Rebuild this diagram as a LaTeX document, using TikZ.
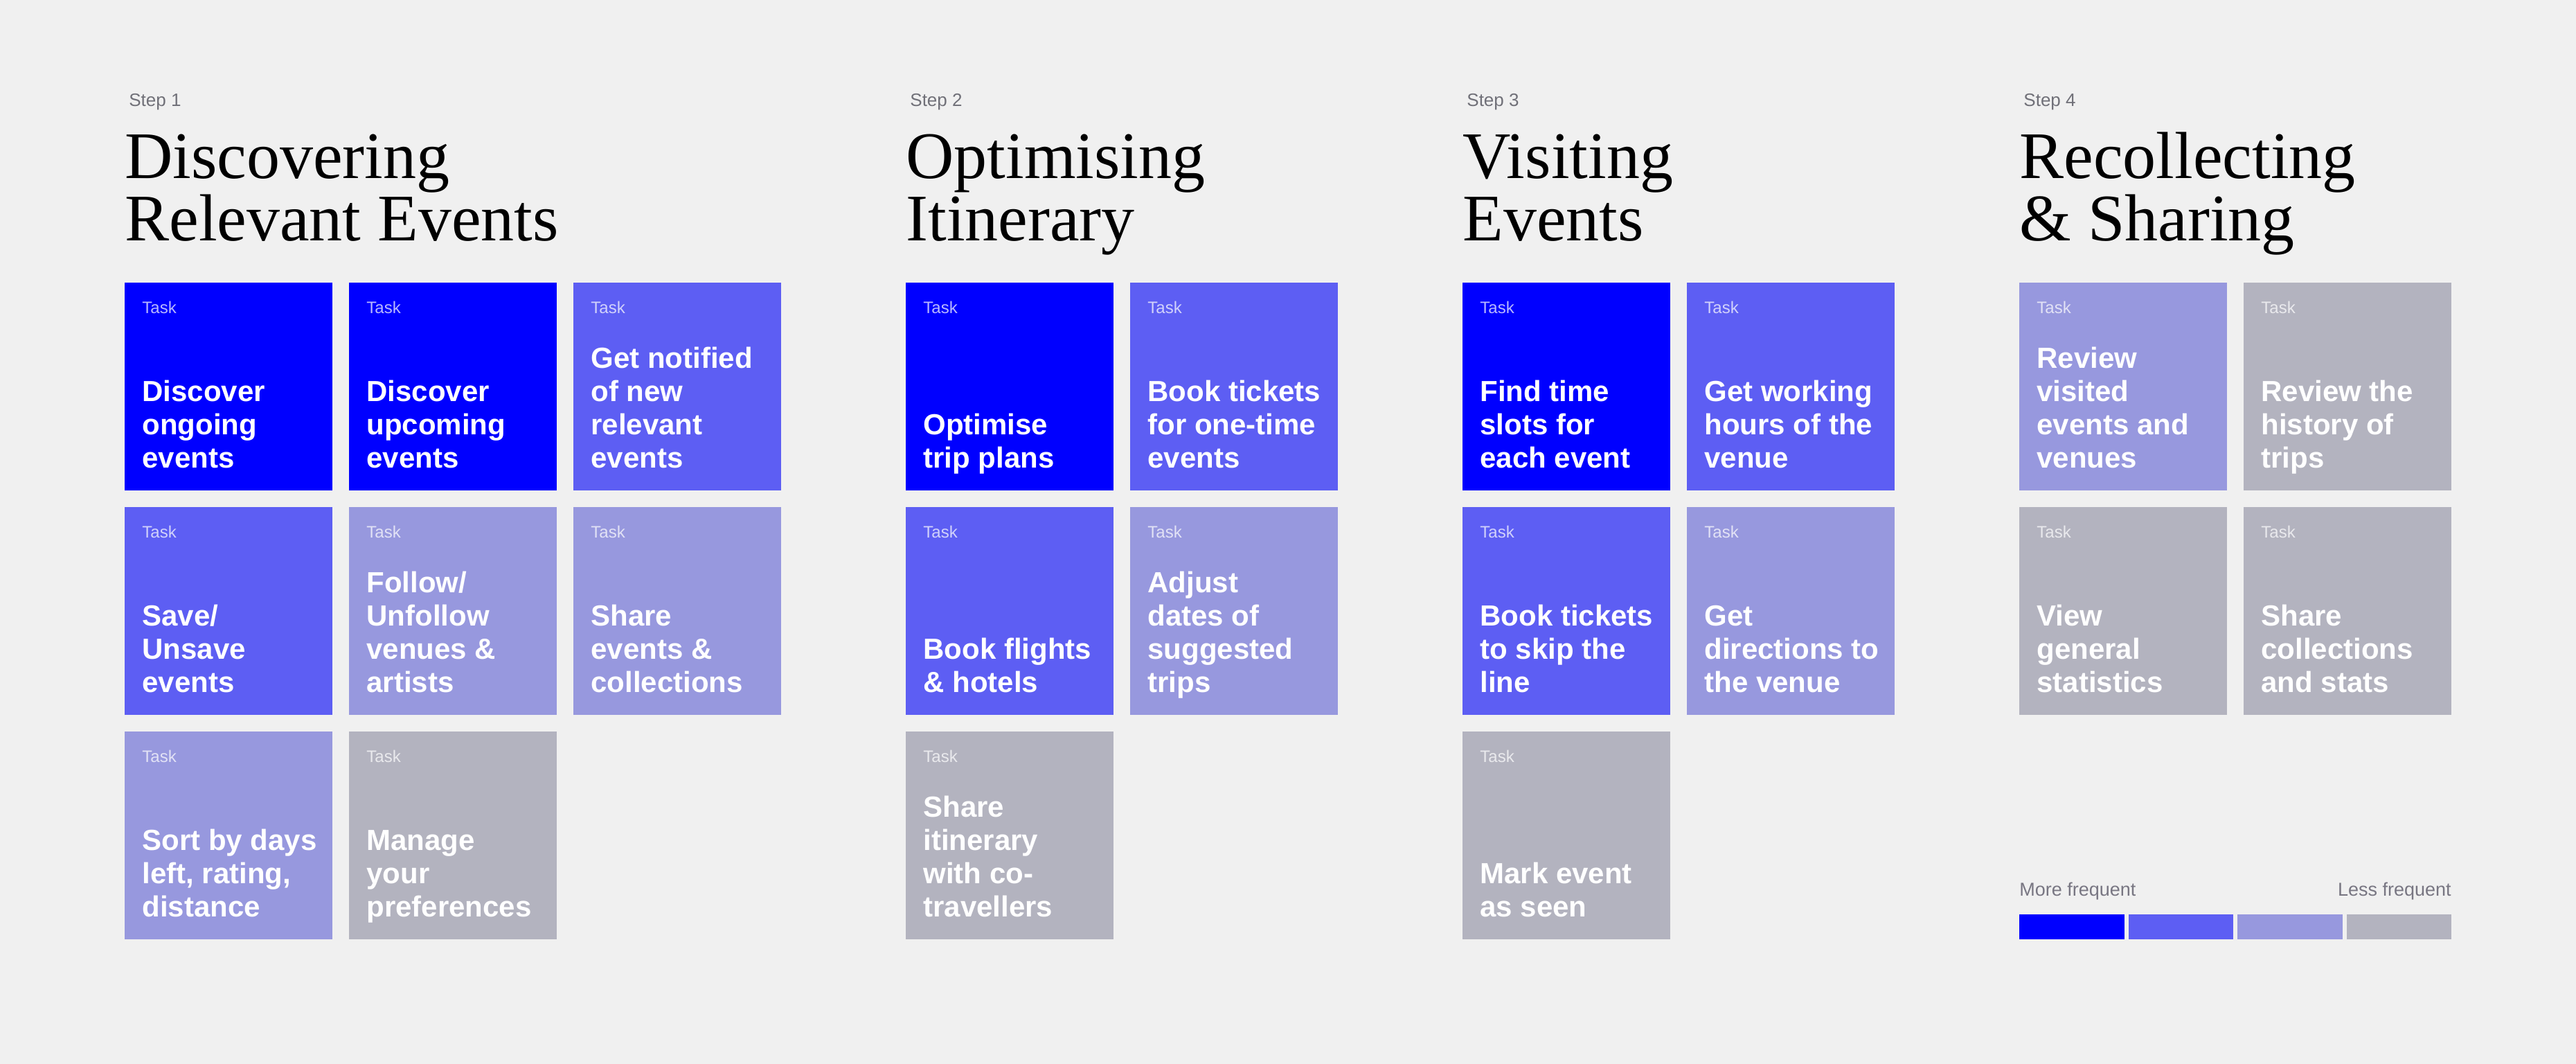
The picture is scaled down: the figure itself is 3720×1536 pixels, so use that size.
\documentclass[tikz,border=0pt]{standalone}
\usepackage{fontspec}
\setmainfont{Liberation Serif}
\newfontfamily\uisans{Liberation Sans}

\definecolor{pagebg}{HTML}{F0F0F0}
\definecolor{freqA}{HTML}{0000FF}
\definecolor{freqB}{HTML}{5D5EF3}
\definecolor{freqC}{HTML}{9798DE}
\definecolor{freqD}{HTML}{B3B3BF}
\definecolor{steptext}{HTML}{707078}
\definecolor{legendtext}{HTML}{787682}

\tikzset{
  cardbox/.style={draw=none, fill=#1, inner sep=0pt, outer sep=0pt,
    minimum width=150pt, minimum height=150pt, anchor=north west},
  tasktag/.style={anchor=base west, inner sep=0pt, text=white, text opacity=0.72,
    font=\uisans\fontsize{12}{14}\selectfont},
  tasktext/.style={anchor=base west, inner sep=0pt, text=white,
    font=\uisans\bfseries\fontsize{21}{24}\selectfont},
  steptag/.style={anchor=base west, inner sep=0pt, text=steptext,
    font=\uisans\fontsize{13}{15}\selectfont},
  phasetitle/.style={anchor=base west, inner sep=0pt, text=black,
    font=\fontsize{48}{45}\selectfont},
  legendbar/.style={draw=none, fill=#1, inner sep=0pt, outer sep=0pt,
    minimum width=75.75pt, minimum height=18pt, anchor=north west},
  legendtag/.style={inner sep=0pt, text=legendtext,
    font=\uisans\fontsize{13.5}{15}\selectfont},
}

% card: name, x, y, fill, lines separated by \cr
\newcommand\taskcard[5]{%
  \node[cardbox=#4] (#1) at (#2,#3) {};
  \node[tasktag] (#1-tag) at ([xshift=12.5pt,yshift=-22.25pt]#1.north west) {Task};
  \node[tasktext] (#1-text) at ([xshift=12.5pt,yshift=16.5pt]#1.south west)
    {\vbox{\halign{##\hfil\cr #5\cr}}};
}
% phase heading: name, x, step label, title lines
\newcommand\phasehead[4]{%
  \node[steptag] (#1-step) at (#2+6,154) {#3};
  \node[phasetitle] (#1-title) at (#2,257) {\vtop{\halign{##\hfil\cr #4\cr}}};
}

\begin{document}
\begin{tikzpicture}[x=0.5pt,y=-0.5pt]
  \fill[pagebg] (0,0) rectangle (3720,1536);
  \useasboundingbox (0,0) rectangle (3720,1536);

  % Step 1
  \phasehead{sa}{180}{Step 1}{Discovering\cr Relevant Events}
  \taskcard{a1}{180}{408}{freqA}{Discover\cr ongoing\cr events}
  \taskcard{a2}{504}{408}{freqA}{Discover\cr upcoming\cr events}
  \taskcard{a3}{828}{408}{freqB}{Get notified\cr of new\cr relevant\cr events}
  \taskcard{a4}{180}{732}{freqB}{Save/\cr Unsave\cr events}
  \taskcard{a5}{504}{732}{freqC}{Follow/\cr Unfollow\cr venues \&\cr artists}
  \taskcard{a6}{828}{732}{freqC}{Share\cr events \&\cr collections}
  \taskcard{a7}{180}{1056}{freqC}{Sort by days\cr left, rating,\cr distance}
  \taskcard{a8}{504}{1056}{freqD}{Manage\cr your\cr preferences}

  % Step 2
  \phasehead{sb}{1308}{Step 2}{Optimising\cr Itinerary}
  \taskcard{b1}{1308}{408}{freqA}{Optimise\cr trip plans}
  \taskcard{b2}{1632}{408}{freqB}{Book tickets\cr for one-time\cr events}
  \taskcard{b3}{1308}{732}{freqB}{Book flights\cr \& hotels}
  \taskcard{b4}{1632}{732}{freqC}{Adjust\cr dates of\cr suggested\cr trips}
  \taskcard{b5}{1308}{1056}{freqD}{Share\cr itinerary\cr with co-\cr travellers}

  % Step 3
  \phasehead{sc}{2112}{Step 3}{Visiting\cr Events}
  \taskcard{c1}{2112}{408}{freqA}{Find time\cr slots for\cr each event}
  \taskcard{c2}{2436}{408}{freqB}{Get working\cr hours of the\cr venue}
  \taskcard{c3}{2112}{732}{freqB}{Book tickets\cr to skip the\cr line}
  \taskcard{c4}{2436}{732}{freqC}{Get\cr directions to\cr the venue}
  \taskcard{c5}{2112}{1056}{freqD}{Mark event\cr as seen}

  % Step 4
  \phasehead{sd}{2916}{Step 4}{Recollecting\cr \& Sharing}
  \taskcard{d1}{2916}{408}{freqC}{Review\cr visited\cr events and\cr venues}
  \taskcard{d2}{3240}{408}{freqD}{Review the\cr history of\cr trips}
  \taskcard{d3}{2916}{732}{freqD}{View\cr general\cr statistics}
  \taskcard{d4}{3240}{732}{freqD}{Share\cr collections\cr and stats}

  % Frequency legend
  \node[legendbar=freqA] (lg1) at (2916,1320) {};
  \node[legendbar=freqB] (lg2) at (3073.5,1320) {};
  \node[legendbar=freqC] (lg3) at (3231,1320) {};
  \node[legendbar=freqD] (lg4) at (3388.5,1320) {};
  \node[legendtag, anchor=base west] (lgmore) at (2916,1293) {More frequent};
  \node[legendtag, anchor=base east] (lgless) at (3540,1293) {Less frequent};
\end{tikzpicture}
\end{document}
